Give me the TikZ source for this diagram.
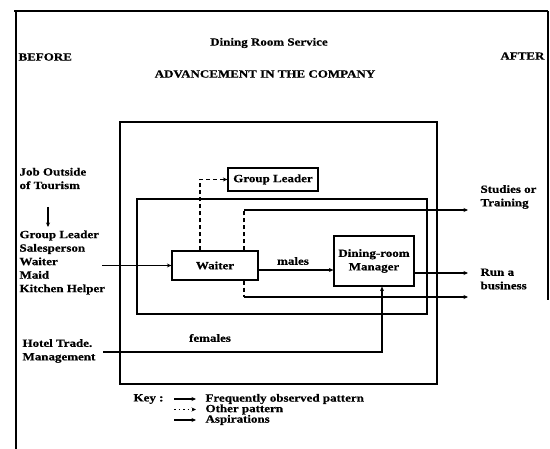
\documentclass[tikz,border=0pt]{standalone}
\usepackage{fontspec}
\setmainfont{Liberation Serif}[FakeStretch=1.18,FakeBold=0.6]
\usetikzlibrary{arrows.meta}
\begin{document}
\begin{tikzpicture}[x=1pt,y=-1pt,line width=1.1pt,
  txt/.style={font=\fontsize{11}{13.5}\selectfont\bfseries,inner sep=0pt},
  box/.style={draw,line width=1.2pt,txt},
  arr/.style={-{Stealth[length=4.5pt,width=4pt]}},
  dsh/.style={dash pattern=on 4pt off 3pt}]
\useasboundingbox (0,0) rectangle (550,449);
% frame
\draw (14,11) -- (548,11);
\draw (16,11) -- (16,449);
\draw (548,11) -- (548,300);
% titles
\node[txt] (title) at (269,43) {Dining Room Service};
\node[txt,anchor=west] (before) at (18,57) {BEFORE};
\node[txt,anchor=east] (after) at (545,56) {AFTER};
\node[txt] (adv) at (265,74) {ADVANCEMENT IN THE COMPANY};
% boxes
\node[draw,line width=1.2pt,minimum width=317pt,minimum height=262pt,inner sep=0pt] (outer) at (278.5,253) {};
\node[draw,line width=1.2pt,minimum width=290pt,minimum height=115pt,inner sep=0pt] (inner) at (282,256.5) {};
\node[box,minimum width=90pt,minimum height=23pt] (gl) at (273,179.5) {Group Leader};
\node[box,minimum width=86pt,minimum height=29pt] (waiter) at (215,265.5) {Waiter};
\node[box,minimum width=80pt,minimum height=50pt,align=center] (mgr) at (374,261) {Dining-room\\Manager};
% left texts
\node[txt,anchor=west,align=left] (job) at (19,178.5) {Job Outside\\of Tourism};
\node[txt,anchor=west,align=left] (list) at (19,262.5) {Group Leader\\Salesperson\\Waiter\\Maid\\Kitchen Helper};
\node[txt,anchor=west,align=left] (hotel) at (22,351) {Hotel Trade.\\Management};
% right texts
\node[txt,anchor=west,align=left] (stud) at (480,197) {Studies or\\Training};
\node[txt,anchor=west,align=left] (run) at (480,279) {Run a\\business};
% labels
\node[txt] (males) at (293,261) {males};
\node[txt] (females) at (210,338) {females};
% connectors
\coordinate (j1) at (48,207);
\coordinate (j2) at (48,227);
\draw[arr] (j1) -- (j2);
\coordinate (l1) at (102,265.5);
\draw[arr] (l1) -- (waiter.west);
\draw[dsh,arr] ([xshift=-15pt]waiter.north) |- (gl.west);
\coordinate (t1) at (244,210);
\coordinate (t2) at (468,210);
\draw[dsh] ([xshift=29pt]waiter.north) -- (t1);
\draw[arr] (t1) -- (t2);
\coordinate (b1) at (244,297);
\coordinate (b2) at (468,297);
\draw[dsh] ([xshift=29pt]waiter.south) -- (b1);
\draw[arr] (b1) -- (b2);
\coordinate (r2) at (468,273);
\draw[arr] ([yshift=-12pt]mgr.east) -- (r2);
\draw[arr] ([yshift=-4.5pt]waiter.east) -- ([yshift=-4.5pt]waiter.east -| mgr.west);
\coordinate (h1) at (103,352);
\draw[arr] (h1) -| ([xshift=8pt]mgr.south);
% key
\node[txt,anchor=west] (key) at (133,399) {Key :};
\coordinate (k1a) at (174,399); \coordinate (k1b) at (196,399);
\coordinate (k2a) at (174,409.5); \coordinate (k2b) at (196,409.5);
\coordinate (k3a) at (174,420); \coordinate (k3b) at (196,420);
\draw[arr] (k1a) -- (k1b);
\draw[arr,dash pattern=on 1.5pt off 3pt] (k2a) -- (k2b);
\draw[arr] (k3a) -- (k3b);
\node[txt,anchor=west] (kt1) at (205,399) {Frequently observed pattern};
\node[txt,anchor=west] (kt2) at (205,409.5) {Other pattern};
\node[txt,anchor=west] (kt3) at (205,420) {Aspirations};
\end{tikzpicture}
\end{document}
